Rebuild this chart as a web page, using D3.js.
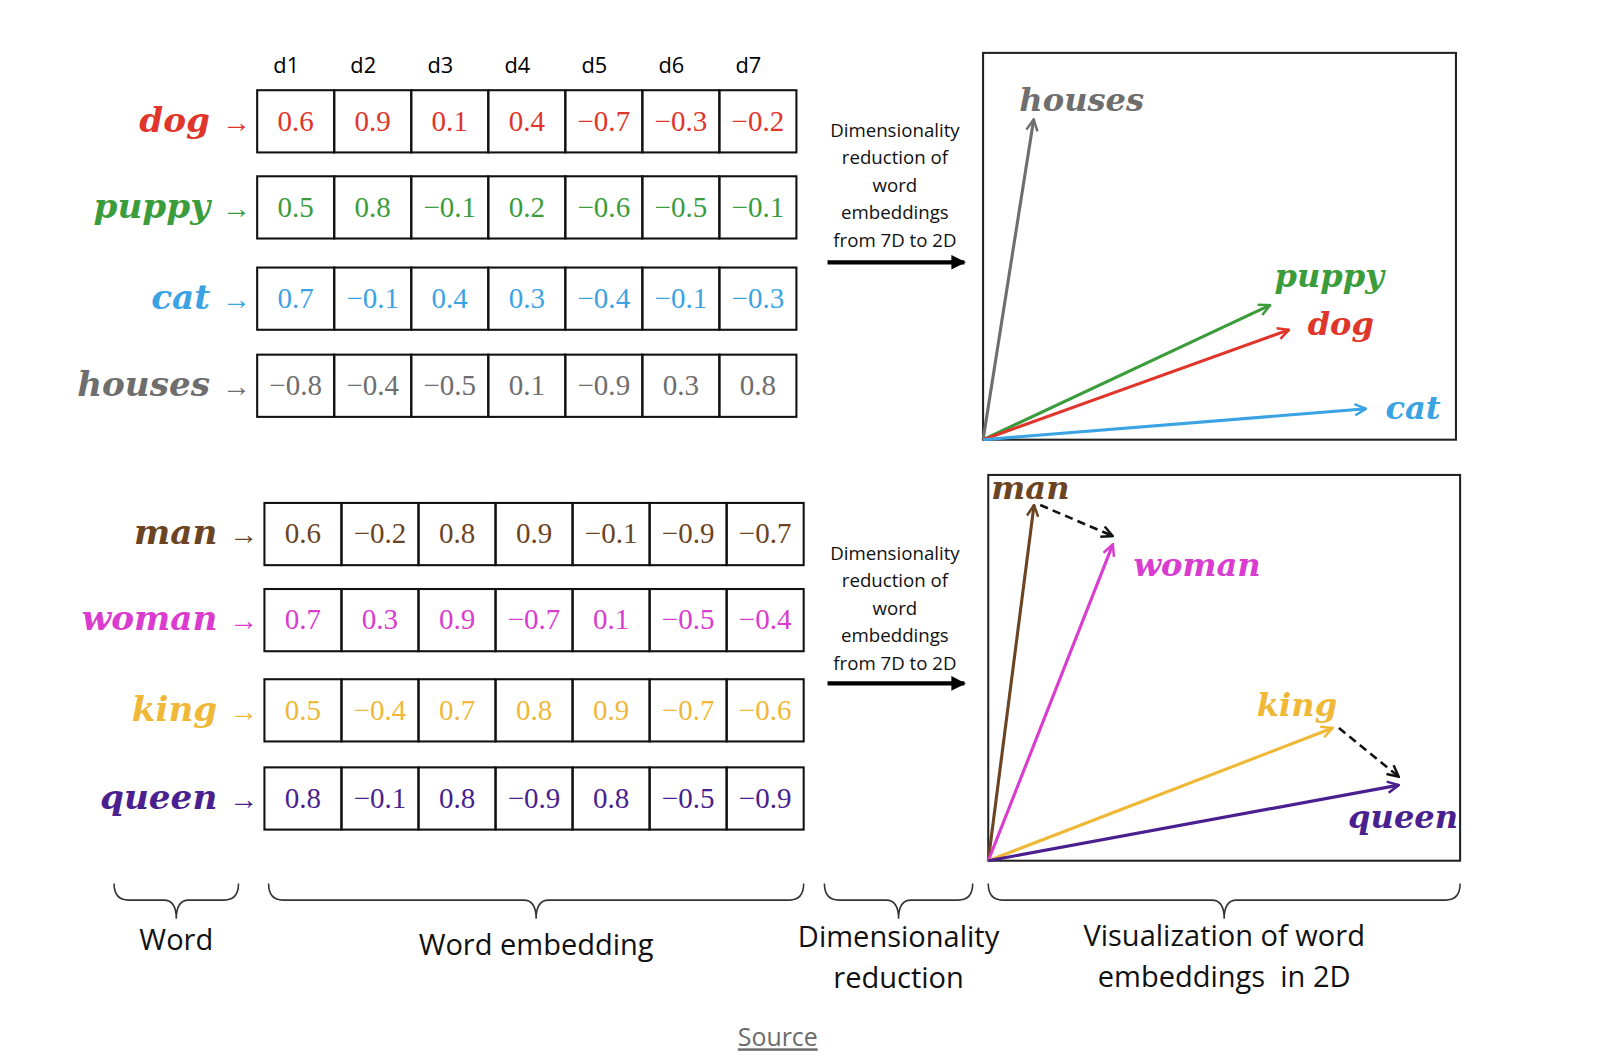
<!DOCTYPE html>
<html><head><meta charset="utf-8">
<script src="https://cdn.jsdelivr.net/npm/d3@7"></script>
<style>body{margin:0;background:#fff}</style>
</head><body>
<svg width="1618" height="1056"></svg>
<script>
var dims = ["d1", "d2", "d3", "d4", "d5", "d6", "d7"];
var topWords = ["dog", "puppy", "cat", "houses"];
var topValues = [
  [0.6, 0.9, 0.1, 0.4, -0.7, -0.3, -0.2],
  [0.5, 0.8, -0.1, 0.2, -0.6, -0.5, -0.1],
  [0.7, -0.1, 0.4, 0.3, -0.4, -0.1, -0.3],
  [-0.8, -0.4, -0.5, 0.1, -0.9, 0.3, 0.8]
];
var bottomWords = ["man", "woman", "king", "queen"];
var bottomValues = [
  [0.6, -0.2, 0.8, 0.9, -0.1, -0.9, -0.7],
  [0.7, 0.3, 0.9, -0.7, 0.1, -0.5, -0.4],
  [0.5, -0.4, 0.7, 0.8, 0.9, -0.7, -0.6],
  [0.8, -0.1, 0.8, -0.9, 0.8, -0.5, -0.9]
];
var colors = {dog: "#e0352b", puppy: "#3b9c3b", cat: "#3ba3e3", houses: "#6e6e6e",
  man: "#6b4423", woman: "#d93ccf", king: "#efb837", queen: "#4a1f8f"};
// 2D projections (arbitrary units 0-10)
var topVectors = [
  {w: "houses", x: 1.07, y: 8.28}, {w: "puppy", x: 6.07, y: 3.48},
  {w: "dog", x: 6.47, y: 2.84}, {w: "cat", x: 8.1, y: 0.8}
];
var bottomVectors = [
  {w: "man", x: 0.97, y: 9.22}, {w: "woman", x: 2.64, y: 8.2},
  {w: "king", x: 7.3, y: 3.44}, {w: "queen", x: 8.7, y: 1.96}
];

var svg0 = d3.select("svg");
var serif = "'DejaVu Serif', 'Liberation Serif', serif";
var sans = "'Open Sans', 'Noto Sans', sans-serif";
var defs = svg0.append("defs");
var svg = svg0.append("g").attr("transform", "scale(1.037)");

function markers(name, col) {
  defs.append("marker").attr("id", name)
    .attr("viewBox", "0 0 12 12").attr("refX", 11).attr("refY", 6)
    .attr("markerWidth", 13).attr("markerHeight", 13).attr("markerUnits", "userSpaceOnUse")
    .attr("orient", "auto")
    .append("path").attr("d", "M1,1 L11,6 L1,11").attr("fill", "none")
    .attr("stroke", col).attr("stroke-width", 2.2);
}
Object.keys(colors).forEach(function (k) { markers("m-" + k, colors[k]); });
markers("m-black", "#111");
defs.append("marker").attr("id", "m-solid")
  .attr("viewBox", "0 0 10 10").attr("refX", 9).attr("refY", 5)
  .attr("markerWidth", 14).attr("markerHeight", 14).attr("markerUnits", "userSpaceOnUse")
  .attr("orient", "auto").append("path").attr("d", "M0,0 L10,5 L0,10 Z").attr("fill", "#000");

function table(words, values, x0, rowsY, showDims) {
  var x = d3.scaleBand().domain(dims).range([x0, x0 + 520]);
  var y = d3.scaleOrdinal().domain(words).range(rowsY);
  var g = svg.append("g");
  if (showDims) {
    g.selectAll(".dim").data(dims).enter().append("text")
      .attr("x", function (d) { return x(d) + 28; }).attr("y", 70)
      .attr("text-anchor", "middle").attr("font-family", sans).attr("font-size", 21)
      .text(function (d) { return d; });
  }
  words.forEach(function (w, i) {
    var row = g.append("g");
    var t = row.append("text").attr("x", x0 - 6).attr("y", y(w) + 40)
      .attr("text-anchor", "end").attr("fill", colors[w]);
    t.append("tspan").attr("font-family", serif).attr("font-size", 33)
      .attr("font-weight", "bold").attr("font-style", "italic").text(w + " ");
    t.append("tspan").attr("font-family", "'Liberation Serif', serif").attr("font-size", 28).text("\u2192");
    row.selectAll("rect").data(values[i]).enter().append("rect")
      .attr("x", function (d, j) { return x(dims[j]); }).attr("y", y(w))
      .attr("width", x.bandwidth()).attr("height", 60)
      .attr("fill", "none").attr("stroke", "#111").attr("stroke-width", 2);
    row.selectAll(".v").data(values[i]).enter().append("text")
      .attr("x", function (d, j) { return x(dims[j]) + x.bandwidth() / 2; })
      .attr("y", y(w) + 39).attr("text-anchor", "middle")
      .attr("font-family", "'Liberation Serif', serif").attr("font-size", 28).attr("fill", colors[w])
      .text(function (d) { return d < 0 ? "\u2212" + Math.abs(d) : d; });
  });
}
table(topWords, topValues, 248, [87, 170, 258, 342], true);
table(bottomWords, bottomValues, 255, [485, 568, 655, 740], false);

function panel(vecs, x0, x1, y0, y1, labels, dashes) {
  var x = d3.scaleLinear().domain([0, 10]).range([x0, x1]);
  var y = d3.scaleLinear().domain([0, 10]).range([y1, y0]);
  var g = svg.append("g");
  g.append("rect").attr("x", x0).attr("y", y0).attr("width", x1 - x0).attr("height", y1 - y0)
    .attr("fill", "none").attr("stroke", "#222").attr("stroke-width", 2);
  g.selectAll("line.v").data(vecs).enter().append("line")
    .attr("x1", x(0)).attr("y1", y(0))
    .attr("x2", function (d) { return x(d.x); }).attr("y2", function (d) { return y(d.y); })
    .attr("stroke", function (d) { return colors[d.w]; }).attr("stroke-width", 3)
    .attr("marker-end", function (d) { return "url(#m-" + d.w + ")"; });
  dashes.forEach(function (p) {
    g.append("line").attr("x1", x(p[0].x) + 6).attr("y1", y(p[0].y))
      .attr("x2", x(p[1].x)).attr("y2", y(p[1].y) - 8)
      .attr("stroke", "#111").attr("stroke-width", 2.5).attr("stroke-dasharray", "8,5")
      .attr("marker-end", "url(#m-black)");
  });
  g.selectAll("text").data(labels).enter().append("text")
    .attr("x", function (d) { return d.x; }).attr("y", function (d) { return d.y; })
    .attr("font-family", serif).attr("font-size", 31).attr("font-weight", "bold")
    .attr("font-style", "italic").attr("fill", function (d) { return colors[d.w]; })
    .text(function (d) { return d.w; });
}
panel(topVectors, 948, 1404, 51, 424,
  [{w: "houses", x: 983, y: 107}, {w: "puppy", x: 1229, y: 277}, {w: "dog", x: 1261, y: 323}, {w: "cat", x: 1336, y: 404}],
  []);
panel(bottomVectors, 953, 1408, 458, 830,
  [{w: "man", x: 956, y: 481}, {w: "woman", x: 1093, y: 555}, {w: "king", x: 1212, y: 690}, {w: "queen", x: 1300, y: 798}],
  [[bottomVectors[0], bottomVectors[1]], [bottomVectors[2], bottomVectors[3]]]);

// middle labels + arrows
[[132, 253], [540, 659]].forEach(function (p) {
  var t = svg.append("text").attr("text-anchor", "middle").attr("font-family", sans)
    .attr("font-size", 18).attr("fill", "#111");
  ["Dimensionality", "reduction of", "word", "embeddings", "from 7D to 2D"].forEach(function (s, i) {
    t.append("tspan").attr("x", 863).attr("y", p[0] + i * 26.5).text(s);
  });
  svg.append("line").attr("x1", 798).attr("x2", 930).attr("y1", p[1]).attr("y2", p[1])
    .attr("stroke", "#000").attr("stroke-width", 4).attr("marker-end", "url(#m-solid)");
});

// braces
var braces = [
  {x0: 110, x1: 230, lines: ["Word"], y: 916},
  {x0: 259, x1: 775, lines: ["Word embedding"], y: 921},
  {x0: 795, x1: 938, lines: ["Dimensionality", "reduction"], y: 913},
  {x0: 953, x1: 1408, lines: ["Visualization of word", "embeddings  in 2D"], y: 912}
];
braces.forEach(function (b) {
  var m = (b.x0 + b.x1) / 2, top = 852, mid = 868, tip = 886;
  svg.append("path")
    .attr("d", "M" + b.x0 + "," + top + " Q" + b.x0 + "," + mid + " " + (b.x0 + 14) + "," + mid +
      " L" + (m - 12) + "," + mid + " Q" + m + "," + mid + " " + m + "," + tip +
      " Q" + m + "," + mid + " " + (m + 12) + "," + mid +
      " L" + (b.x1 - 14) + "," + mid + " Q" + b.x1 + "," + mid + " " + b.x1 + "," + top)
    .attr("fill", "none").attr("stroke", "#333").attr("stroke-width", 1.5);
  var t = svg.append("text").attr("text-anchor", "middle").attr("font-family", sans)
    .attr("font-size", 28).attr("fill", "#111").attr("xml:space", "preserve")
    .style("white-space", "pre");
  b.lines.forEach(function (s, i) {
    t.append("tspan").attr("x", m).attr("y", b.y + i * 40).text(s);
  });
});

svg.append("text").attr("x", 750).attr("y", 1009).attr("text-anchor", "middle")
  .attr("font-family", sans).attr("font-size", 24).attr("fill", "#6b6b6b")
  .attr("text-decoration", "underline").text("Source");
</script>
</body></html>
